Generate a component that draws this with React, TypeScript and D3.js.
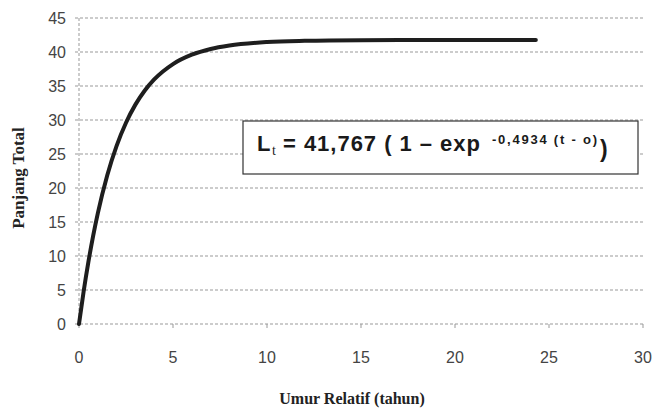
import React from "react";
import * as d3 from "d3";

const ages = [0, 0.25, 0.5, 0.75, 1, 1.5, 2, 2.5, 3, 3.5, 4, 5, 6, 7, 8, 10, 12, 15, 20, 24.3];
const lengths = [0, 4.84, 9.13, 12.92, 16.27, 21.84, 26.2, 29.6, 32.26, 34.34, 35.96, 38.22, 39.6, 40.45, 40.96, 41.47, 41.65, 41.74, 41.77, 41.77];
const xTicks = [0, 5, 10, 15, 20, 25, 30];
const yTicks = [0, 5, 10, 15, 20, 25, 30, 35, 40, 45];

const W = 653;
const H = 414;
const left = 79;
const right = 643;
const top = 18;
const bottom = 324;

export default function App() {
  const x = d3.scaleLinear().domain([0, 30]).range([left, right]);
  const y = d3.scaleLinear().domain([0, 45]).range([bottom, top]);
  const pts: [number, number][] = ages.map((a, i) => [a, lengths[i]]);
  const line = d3
    .line<[number, number]>()
    .x((d) => x(d[0]))
    .y((d) => y(d[1]))
    .curve(d3.curveMonotoneX);

  const sans = "Liberation Sans, Arial, sans-serif";

  return (
    <svg
      width={W}
      height={H}
      style={{ position: "absolute", left: 0, top: 0, background: "#fff" }}
    >
      <rect x={0} y={0} width={W} height={H} fill="#fff" />
      {yTicks.map((t) => (
        <g key={"y" + t}>
          <line
            x1={left - 4}
            x2={right + 2}
            y1={y(t)}
            y2={y(t)}
            stroke="#999"
            strokeWidth={1}
            strokeDasharray="3 2"
          />
          <text x={66} y={y(t)} dy="0.36em" textAnchor="end" fontFamily={sans} fontSize={16} fill="#444">
            {t}
          </text>
        </g>
      ))}
      <line x1={left} x2={left} y1={top} y2={bottom + 3} stroke="#999" strokeDasharray="3 2" />
      {xTicks.map((t) => (
        <g key={"x" + t}>
          <line x1={x(t)} x2={x(t)} y1={bottom} y2={bottom + 4} stroke="#999" />
          <text x={x(t)} y={357} dy="0.36em" textAnchor="middle" fontFamily={sans} fontSize={16} fill="#444">
            {t}
          </text>
        </g>
      ))}
      <path d={line(pts) || ""} fill="none" stroke="#1e1e1e" strokeWidth={4} strokeLinecap="round" />
      <text
        x={352}
        y={398}
        dy="0.36em"
        textAnchor="middle"
        fontFamily="Liberation Serif, Times New Roman, serif"
        fontWeight="bold"
        fontSize={16}
        fill="#222"
      >
        Umur Relatif (tahun)
      </text>
      <text
        transform="translate(18,178) rotate(-90)"
        dy="0.36em"
        textAnchor="middle"
        fontFamily="Liberation Serif, Times New Roman, serif"
        fontWeight="bold"
        fontSize={17}
        fill="#222"
      >
        Panjang Total
      </text>
      <rect x={243} y={121} width={395} height={53} fill="#fff" stroke="#333" strokeWidth={1.2} />
      <text x={257} y={151} fontFamily={sans} fontWeight="bold" fontSize={22} fill="#1a1a1a">
        L
      </text>
      <text x={272} y={155} fontFamily="Liberation Serif, serif" fontSize={14} fill="#1a1a1a">
        t
      </text>
      <text
        x={283}
        y={151}
        fontFamily={sans}
        fontWeight="bold"
        fontSize={22}
        fill="#1a1a1a"
        textLength={197}
        lengthAdjust="spacing"
      >
        = 41,767 ( 1 – exp
      </text>
      <text
        x={492}
        y={144}
        fontFamily={sans}
        fontWeight="bold"
        fontSize={13}
        fill="#1a1a1a"
        textLength={105}
        lengthAdjust="spacing"
      >
        -0,4934 (t - o)
      </text>
      <text x={600} y={157} fontFamily={sans} fontWeight="bold" fontSize={23} fill="#1a1a1a">
        )
      </text>
    </svg>
  );
}
